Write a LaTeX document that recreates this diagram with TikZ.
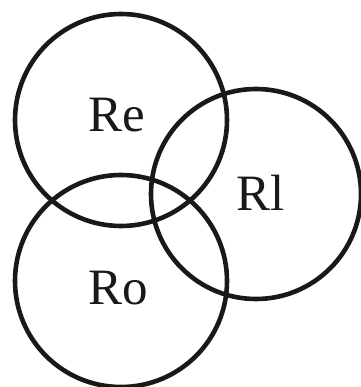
\documentclass[tikz,border=0pt]{standalone}
\usepackage{fontspec}
\setmainfont{Liberation Serif}
\usetikzlibrary{positioning}

\begin{document}
\begin{tikzpicture}[
    x=1pt,
    y=-1pt,
    ring/.style={
        draw=black!90,
        line width=4.6pt
    },
    setlabel/.style={
        inner sep=0pt,
        font=\fontsize{51}{51}\selectfont,
        text=black!90
    }
]

\useasboundingbox (0,0) rectangle (360,387);

% the three sets
\draw[ring] (121,120) circle[radius=106];
\draw[ring] (256,194) circle[radius=105];
\draw[ring] (121,281) circle[radius=106];

% their names
\node[setlabel] (re) at (117,115) {Re};
\node[setlabel] (rl) at (261,193) {Rl};
\node[setlabel] (ro) at (118,288) {Ro};

\end{tikzpicture}
\end{document}
